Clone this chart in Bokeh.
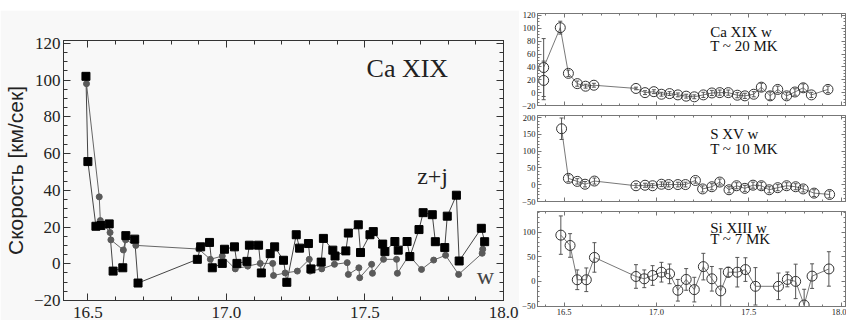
import pandas as pd
from bokeh.plotting import figure
from bokeh.models import (LinearAxis, FixedTicker, PrintfTickFormatter, Label,
                          ColumnDataSource, Whisker, TeeHead, Spacer, Range1d)
from bokeh.layouts import row, column
from bokeh.embed import file_html
from bokeh.resources import INLINE

# ---------------- Left panel: Ca XIX, z+j (squares) and w (circles) ----------------
zj_x = [16.493, 16.500, 16.529, 16.547, 16.577, 16.591, 16.626, 16.637, 16.669, 16.681,
        16.895, 16.907, 16.939, 16.949, 16.985, 16.993, 17.029, 17.038, 17.074, 17.083,
        17.116, 17.126, 17.158, 17.174, 17.206, 17.218, 17.252, 17.264, 17.296, 17.305,
        17.342, 17.350, 17.384, 17.392, 17.431, 17.440, 17.476, 17.484, 17.518, 17.530,
        17.564, 17.572, 17.608, 17.620, 17.652, 17.662, 17.695, 17.710, 17.743, 17.754,
        17.788, 17.797, 17.830, 17.840, 17.920, 17.932]
zj_v = [102, 55.6, 20.4, 20.8, 21.7, -4, -2.2, 15.3, 13.4, -10.5,
        2.4, 9.2, 11.6, -2.2, 0.2, 7.9, 9.2, 0.2, 1.3, 10.1,
        10.1, -5, 5.5, 9.2, 1.9, -10.1, 15.8, 8.5, 11, -2.8,
        0.9, 13.8, 7.4, 4.2, 7, 16.7, 21.2, 6.1, 15.8, 17.5,
        10.7, 6.6, 12.1, 7.4, 12.1, 3.9, 18.6, 27.8, 26.7, 12,
        8.8, 25.9, 37.3, 1.5, 19.3, 12]

w_x = [16.495, 16.541, 16.545, 16.580, 16.583, 16.628, 16.636, 16.673, 16.900, 16.942,
       16.985, 17.032, 17.077, 17.122, 17.167, 17.170, 17.212, 17.256, 17.299, 17.302,
       17.344, 17.390, 17.436, 17.440, 17.478, 17.481, 17.524, 17.527, 17.567, 17.614,
       17.617, 17.659, 17.704, 17.748, 17.791, 17.838, 17.923, 17.925]
w_v = [98, 36.4, 23.5, 17, 13, 7.5, 13, 10, 8, 2.4,
       4.2, -2.8, -1.3, 0.2, 0.2, -6.4, -5, -4, 2.4, -4,
       -2.8, -0.3, 0.6, -5.8, -2.2, -7.6, -0.3, -5.2, 2.4, 2.4,
       -5.2, 4.6, -3.1, 2, 4.6, -5.8, 5.7, 7.9]

# ---------------- Right panels ----------------
ca_x = [16.389, 16.389, 16.479, 16.523, 16.571, 16.616, 16.661, 16.889, 16.938, 16.986,
        17.027, 17.071, 17.116, 17.161, 17.205, 17.254, 17.300, 17.343, 17.389, 17.438,
        17.479, 17.527, 17.568, 17.616, 17.657, 17.705, 17.750, 17.795, 17.839, 17.929]
ca_v = [19, 39, 101, 30, 14, 10, 11.5, 6.5, 0, 1.5,
        -2.5, -1.5, -3.5, -5.5, -6.5, -3.5, -0.5, 0, 0, -4,
        -5, -2.5, 8.5, -5, 5, -5, 1, 7.5, -3.5, 5]
ca_err = [30, 45, 10, 5, 4, 3, 3, 2, 3, 3,
          3, 3, 3, 3, 3, 4, 4, 4, 4, 4,
          4, 4, 6, 6, 5, 5, 5, 6, 4, 5]

s_x = [16.486, 16.523, 16.571, 16.613, 16.664, 16.889, 16.938, 16.979, 17.027, 17.066,
       17.116, 17.157, 17.211, 17.250, 17.300, 17.343, 17.393, 17.434, 17.479, 17.523,
       17.568, 17.611, 17.657, 17.705, 17.754, 17.795, 17.854, 17.938]
s_v = [167, 19, 10, 1.5, 11, -3, -1.5, -3, 1.5, 0.5,
       0.5, 0.5, 12.7, -12.5, -6, 8, -15, -3, -10.8, -1.3,
       -3, -15, -8.8, -3, -6, -12.5, -25, -29]
s_err = [32, 10, 8, 8, 9, 6, 6, 6, 7, 7,
         7, 7, 8, 9, 9, 9, 9, 9, 9, 9,
         10, 9, 9, 9, 9, 9, 10, 10]

si_x = [16.482, 16.532, 16.571, 16.620, 16.664, 16.889, 16.934, 16.979, 17.027, 17.071,
        17.116, 17.161, 17.205, 17.254, 17.300, 17.348, 17.389, 17.438, 17.482, 17.536,
        17.661, 17.709, 17.754, 17.800, 17.843, 17.934]
si_v = [94, 73, 3.3, 3.3, 48.7, 10, 5.3, 12, 18.7, 15.3,
        -18, 4, -16.7, 30, 5.3, -19.3, 18.7, 18.7, 24, -10,
        -10, 4, 0, -48, 10.7, 25.3]
si_err = [39, 24, 20, 24, 30, 24, 18, 20, 20, 20,
          22, 22, 25, 27, 25, 45, 10, 30, 24, 38,
          27, 15, 35, 32, 25, 35]

x_major = [16.5, 17.0, 17.5, 18.0]
x_minor = [round(16.3 + 0.1 * i, 1) for i in range(19)]

SERIF = "Liberation Serif"


def style_axis(ax, ticker, size, show_labels, tick_in, minor_in, color):
    ax.ticker = ticker
    ax.major_tick_in = tick_in
    ax.major_tick_out = 0
    ax.minor_tick_in = minor_in
    ax.minor_tick_out = 0
    ax.axis_line_color = color
    ax.major_tick_line_color = color
    ax.minor_tick_line_color = color
    ax.major_label_text_font = SERIF
    ax.major_label_text_color = "#222222"
    ax.major_label_text_font_size = size
    if not show_labels:
        ax.major_label_text_color = None
        ax.major_label_text_font_size = "1px"
        ax.major_label_standoff = 0


def add_box(p, xt, yt, size, show_x, tick_in, minor_in, color, x_standoff, y_standoff):
    xa = p.below[0]
    ya = p.left[0]
    style_axis(xa, xt, size, show_x, tick_in, minor_in, color)
    style_axis(ya, yt, size, True, tick_in, minor_in, color)
    xa.formatter = PrintfTickFormatter(format="%.1f")
    if show_x:
        xa.major_label_standoff = x_standoff
    ya.major_label_standoff = y_standoff
    top = LinearAxis()
    right = LinearAxis()
    style_axis(top, xt, size, False, tick_in, minor_in, color)
    style_axis(right, yt, size, False, tick_in, minor_in, color)
    p.add_layout(top, "above")
    p.add_layout(right, "right")
    return xa, ya


# ---------------- Left figure ----------------
left = figure(width=519, height=310, output_backend="svg", toolbar_location=None,
              x_range=Range1d(16.412, 18.0), y_range=Range1d(-20, 121.5),
              min_border_left=63, min_border_right=16, min_border_top=30, min_border_bottom=16)
left.background_fill_color = "#f8f8f8"
left.border_fill_color = "#f8f8f8"
left.outline_line_color = "#333333"
left.grid.visible = False
lx, ly = add_box(left,
                 FixedTicker(ticks=x_major, minor_ticks=x_minor),
                 FixedTicker(ticks=[-20, 0, 20, 40, 60, 80, 100, 120],
                             minor_ticks=list(range(-20, 125, 5))),
                 "17px", True, 7, 4, "#333333", 6, 3)
ly.axis_label = "Скорость [км/сек]"
ly.axis_label_text_font = "Liberation Sans"
ly.axis_label_text_font_style = "normal"
ly.axis_label_text_font_size = "21px"
ly.axis_label_text_color = "#222222"
ly.axis_label_standoff = 4

src_zj = ColumnDataSource(pd.DataFrame({"x": zj_x, "v": zj_v}))
src_w = ColumnDataSource(pd.DataFrame({"x": w_x, "v": w_v}))
left.line("x", "v", source=src_w, line_color="#666666", line_width=1)
left.line("x", "v", source=src_zj, line_color="#444444", line_width=1)
left.scatter("x", "v", source=src_w, marker="circle", size=6,
             fill_color="#5a5a5a", line_color="#5a5a5a")
left.scatter("x", "v", source=src_zj, marker="square", size=8,
             fill_color="black", line_color="black")

left.add_layout(Label(x=17.653, y=106.5, text="Ca XIX", text_font=SERIF,
                      text_font_size="26px", text_align="center",
                      text_baseline="middle", text_color="#222222"))
left.add_layout(Label(x=17.744, y=48, text="z+j", text_font=SERIF,
                      text_font_size="24px", text_align="center",
                      text_baseline="middle", text_color="#222222"))
left.add_layout(Label(x=17.935, y=-6.6, text="w", text_font=SERIF,
                      text_font_size="24px", text_align="center",
                      text_baseline="middle", text_color="#444444"))


# ---------------- Right figures ----------------
def right_panel(height, border_top, border_bottom, yr, ymajor, yminor, xs, vs, errs,
                line1, line2, y1, y2, show_x):
    p = figure(width=327, height=height, output_backend="svg", toolbar_location=None,
               x_range=Range1d(16.3556, 18.024), y_range=Range1d(*yr),
               min_border_left=14, min_border_right=1,
               min_border_top=border_top, min_border_bottom=border_bottom)
    p.background_fill_color = "white"
    p.border_fill_color = "white"
    p.outline_line_color = "#888888"
    p.grid.visible = False
    add_box(p, FixedTicker(ticks=x_major, minor_ticks=x_minor),
            FixedTicker(ticks=ymajor, minor_ticks=yminor),
            "8.5px", show_x, 4, 2, "#777777", 2, 2)
    df = pd.DataFrame({"x": xs, "v": vs, "e": errs})
    df["lo"] = df["v"] - df["e"]
    df["hi"] = df["v"] + df["e"]
    src = ColumnDataSource(df)
    p.line("x", "v", source=src, line_color="#555555", line_width=0.8)
    p.add_layout(Whisker(base="x", lower="lo", upper="hi", source=src,
                         dimension="height", line_color="#555555", line_width=1,
                         upper_head=TeeHead(size=4, line_color="#555555"),
                         lower_head=TeeHead(size=4, line_color="#555555")))
    p.scatter("x", "v", source=src, marker="circle", size=10,
              fill_color=None, line_color="#333333", line_width=1)
    p.add_layout(Label(x=17.291, y=y1, text=line1, text_font=SERIF,
                       text_font_size="15px", text_baseline="middle",
                       text_color="#111111"))
    p.add_layout(Label(x=17.291, y=y2, text=line2, text_font=SERIF,
                       text_font_size="15px", text_baseline="middle",
                       text_color="#111111"))
    return p


top = right_panel(110, 13, 5, (-20, 123), [-20, 0, 20, 40, 60, 80, 100, 120],
                  list(range(-20, 125, 5)), ca_x, ca_v, ca_err,
                  "Ca XIX w", "T ~ 20 MK", 94.8, 72, False)
mid = right_panel(96, 5, 5, (-50, 206.5), [-50, 0, 50, 100, 150, 200],
                  list(range(-50, 210, 10)), s_x, s_v, s_err,
                  "S XV w", "T ~ 10 MK", 150, 108, False)
bot = right_panel(114, 5, 14, (-51, 142), [-50, 0, 50, 100],
                  list(range(-50, 145, 10)), si_x, si_v, si_err,
                  "Si XIII w", "T ~ 7 MK", 108.8, 85.7, True)

layout = row(column(Spacer(width=519, height=10), left), column(top, mid, bot))

open("out.html", "w").write(file_html(layout, INLINE))
